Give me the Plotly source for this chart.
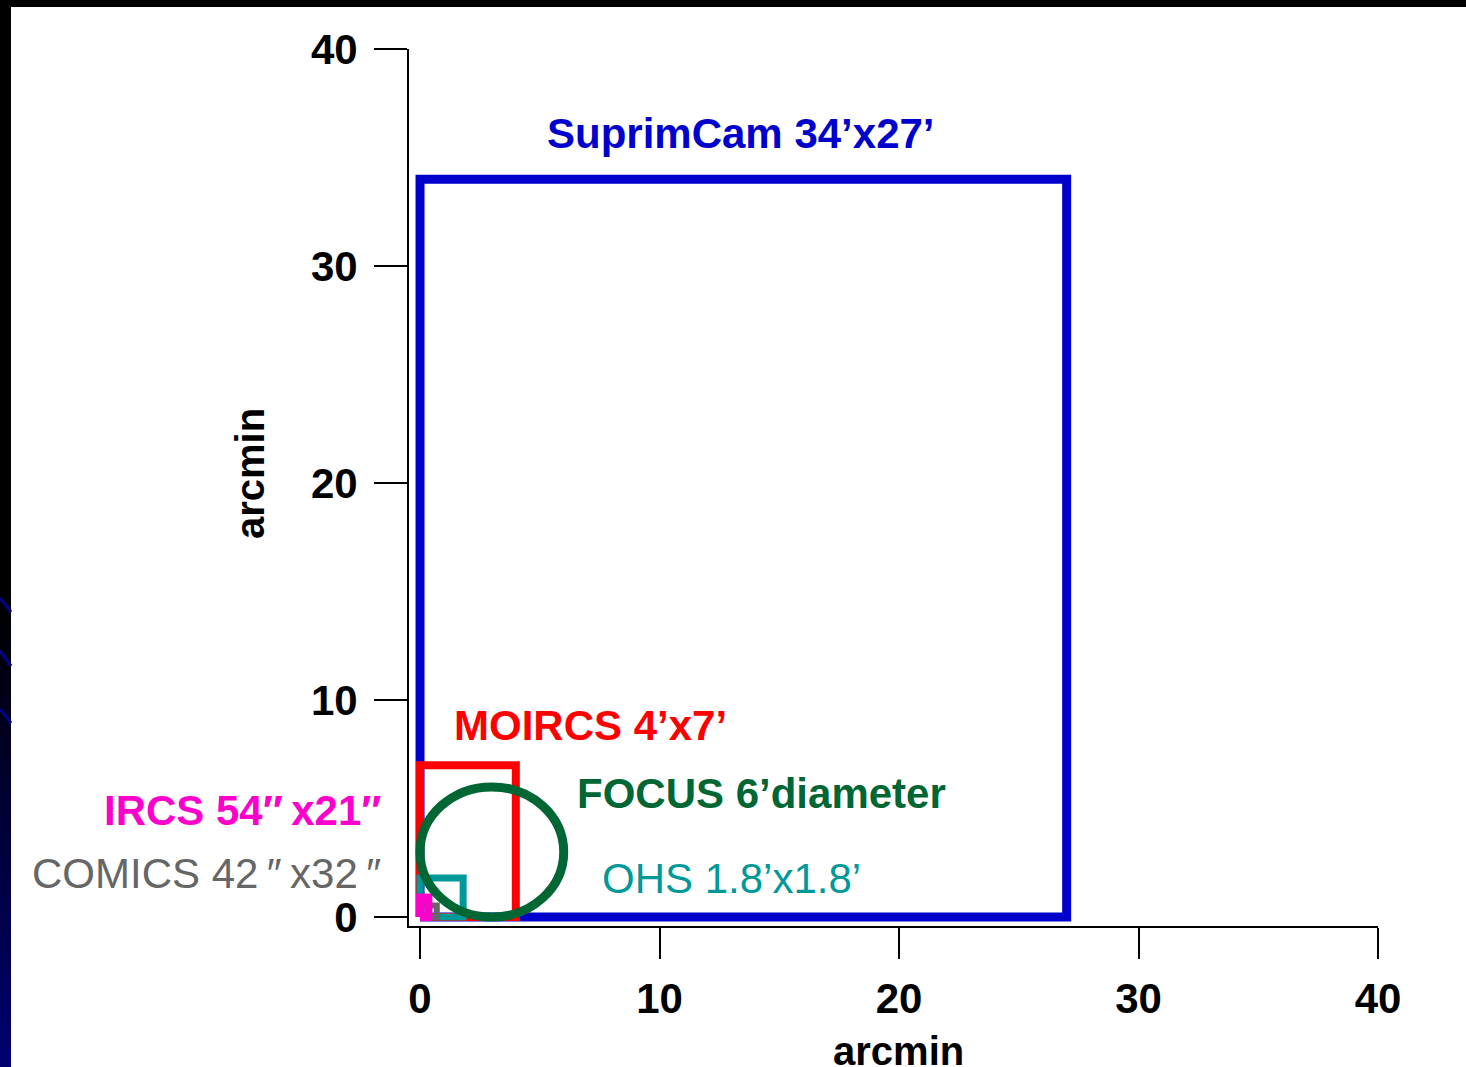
import plotly.graph_objects as go

# ---------------- data (arcmin) ----------------
rect_names = ["SuprimCam", "MOIRCS", "OHS", "COMICS", "IRCS"]
rect_width = [27, 4, 1.8, 0.7, 0.35]
rect_height = [34, 7, 1.8, 0.53, 0.9]
rect_colors = ["#0000CC", "#FF0000", "#009999", "#666666", "#FF00CC"]
rect_linewidth = [9, 8, 7, 6, 8]

focus_center = (3, 3)
focus_diameter = 6
focus_color = "#006633"

x_ticks = [0, 10, 20, 30, 40]
y_ticks = [0, 10, 20, 30, 40]

labels = ["SuprimCam 34\u2019x27\u2019", "MOIRCS 4\u2019x7\u2019", "FOCUS 6\u2019diameter",
          "OHS 1.8\u2019x1.8\u2019", "IRCS 54\u2033\u2009x21\u2033",
          "COMICS 42\u2009\u2033\u2009x32\u2009\u2033"]
label_colors = ["#0000CC", "#FF0000", "#006633", "#009999", "#FF00CC", "#666666"]
axis_title = "arcmin"

FONT = "Liberation Sans, Arial, sans-serif"

fig = go.Figure()

for name, w, h, c, lw in zip(rect_names, rect_width, rect_height, rect_colors, rect_linewidth):
    fig.add_trace(go.Scatter(
        x=[0, w, w, 0, 0], y=[0, 0, h, h, 0], mode="lines", name=name,
        line=dict(color=c, width=lw), hoverinfo="skip", showlegend=False))

r = focus_diameter / 2
fig.add_shape(type="circle", xref="x", yref="y",
              x0=focus_center[0] - r, x1=focus_center[0] + r,
              y0=focus_center[1] - r, y1=focus_center[1] + r,
              line=dict(color=focus_color, width=9))

# page geometry
W, H = 1466, 1067
L, R, T, B = 409, 88, 49, 141
pw, ph = W - L - R, H - T - B


def px_x(px):
    return (px - L) / pw


def px_y(py):
    return (H - B - py) / ph


# label placement (pixel positions on the page)
ann_pos = [
    dict(x=545, y=133, xanchor="left", bold=True),
    dict(x=452, y=725, xanchor="left", bold=True),
    dict(x=575, y=793, xanchor="left", bold=True),
    dict(x=600, y=878, xanchor="left", bold=False),
    dict(x=383, y=810, xanchor="right", bold=True),
    dict(x=383, y=873, xanchor="right", bold=False),
]
for txt, col, p in zip(labels, label_colors, ann_pos):
    fig.add_annotation(x=px_x(p["x"]), y=px_y(p["y"]), xref="paper", yref="paper", text=txt,
                       showarrow=False, xanchor=p["xanchor"], yanchor="middle",
                       font=dict(family=FONT, size=42, color=col,
                                 weight="bold" if p["bold"] else "normal"))

# axis titles
fig.add_annotation(x=px_x(898), y=px_y(1051), xref="paper", yref="paper", text=axis_title,
                   showarrow=False, xanchor="center", yanchor="middle",
                   font=dict(family=FONT, size=40, color="black", weight="bold"))
fig.add_annotation(x=px_x(250), y=px_y(474), xref="paper", yref="paper", text=axis_title,
                   showarrow=False, xanchor="center", yanchor="middle", textangle=-90,
                   font=dict(family=FONT, size=40, color="black", weight="bold"))

# slide frame (decoration)
fig.add_shape(type="rect", xref="paper", yref="paper", x0=px_x(0), x1=px_x(W),
              y0=px_y(7), y1=px_y(-2), fillcolor="black", line=dict(width=0))
fig.add_shape(type="rect", xref="paper", yref="paper", x0=px_x(-2), x1=px_x(11),
              y0=px_y(600), y1=px_y(0), fillcolor="black", line=dict(width=0))
steps = 24
for i in range(steps):
    y0p = 600 + (H + 2 - 600) * i / steps
    y1p = 600 + (H + 2 - 600) * (i + 1) / steps + 1
    b = int(round(112 * (i + 0.5) / steps))
    fig.add_shape(type="rect", xref="paper", yref="paper", x0=px_x(-2), x1=px_x(11),
                  y0=px_y(y1p), y1=px_y(y0p), fillcolor=f"rgb(0,0,{b})", line=dict(width=0))
for ya, yb in [(598, 612), (651, 666), (709, 723)]:
    fig.add_shape(type="line", xref="paper", yref="paper", x0=px_x(0), x1=px_x(11),
                  y0=px_y(ya), y1=px_y(yb), line=dict(color="#000088", width=3))

axis_common = dict(showgrid=False, zeroline=False, showline=True, linecolor="black",
                   linewidth=2, ticks="outside", tickwidth=2, tickcolor="black",
                   tickfont=dict(family=FONT, size=42, color="black", weight="bold"),
                   automargin=False, mirror=False)

fig.update_layout(
    width=W, height=H,
    margin=dict(l=L, r=R, t=T, b=B),
    paper_bgcolor="white", plot_bgcolor="white",
    template="none",
    showlegend=False,
    xaxis=dict(range=[-0.46, 40], tickvals=x_ticks, ticktext=[str(v) for v in x_ticks],
               ticklen=31, ticklabelstandoff=4, **axis_common),
    yaxis=dict(range=[-0.41, 40], tickvals=y_ticks, ticktext=[str(v) for v in y_ticks],
               ticklen=33, ticklabelstandoff=8, **axis_common),
)

fig.write_html("out.html", config={"displayModeBar": False},
               post_script="document.body.style.margin='0';document.body.style.padding='0';")
